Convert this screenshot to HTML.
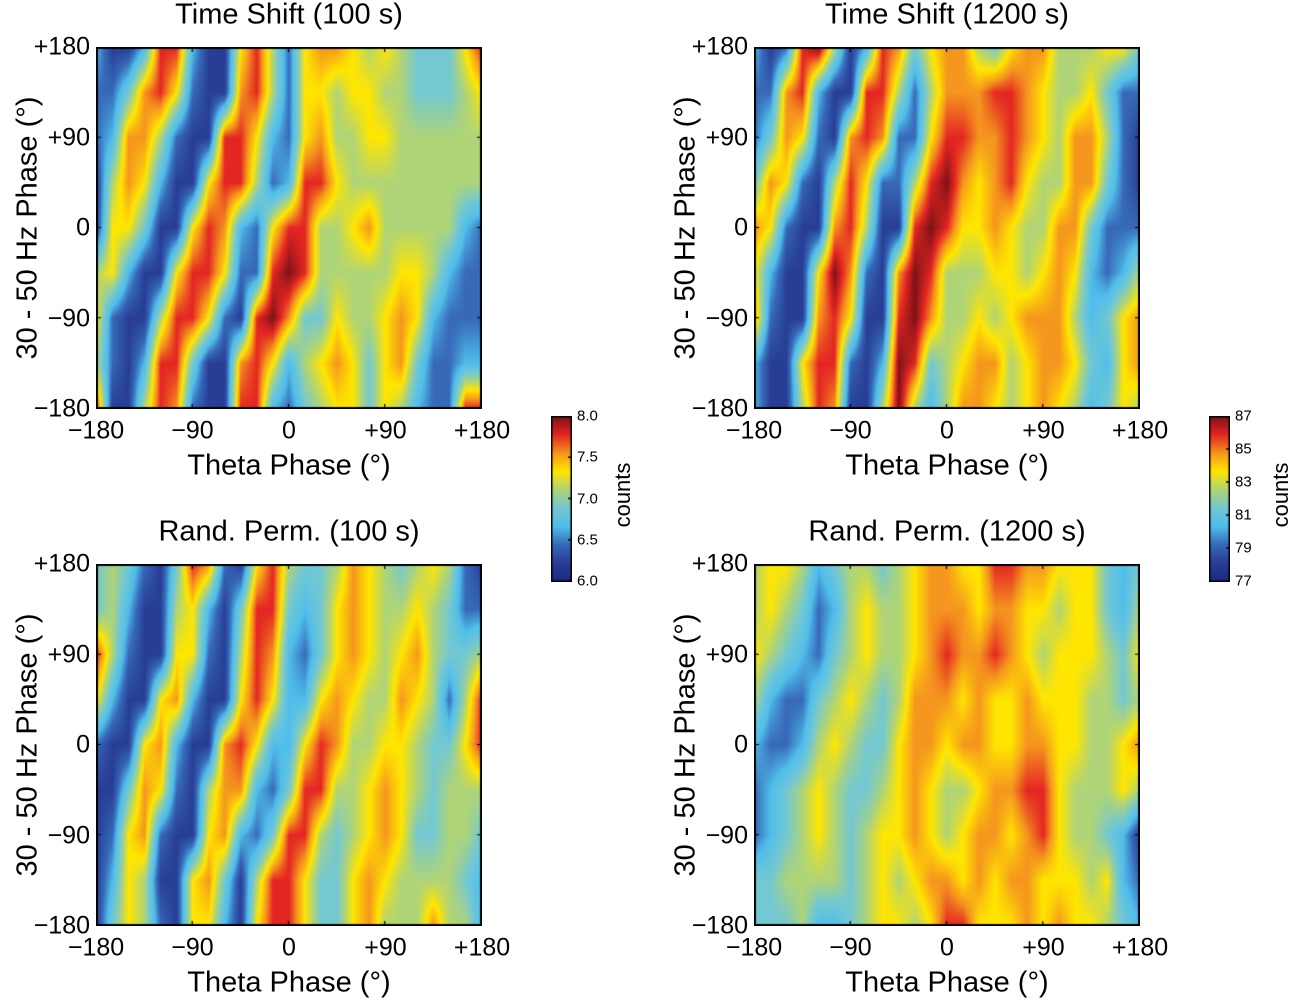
<!DOCTYPE html>
<html><head><meta charset="utf-8"><style>
body{margin:0;background:#fff;width:1297px;height:1001px;overflow:hidden;position:relative;font-family:"Liberation Sans",sans-serif;color:#000}
.t{position:absolute;white-space:nowrap}
canvas{position:absolute}
</style></head><body>
<div id="root"></div>
<script>
// Panel heatmap data: color-index levels (0 = colormap min, 9 = max), rows from +180 (top) to -180, 25 columns from -180 to +180 (15° steps)
const tsShort = [
[3,1,1,3,8,8,3,1,1,6,8,5,2,6,7,7,6,5,6,5,4,4,4,6,8],
[2,2,4,7,8,6,2,1,1,7,8,5,2,6,6,5,6,6,5,5,4,4,4,5,6],
[2,3,7,7,5,2,1,1,8,8,6,3,2,6,7,5,5,6,6,5,5,5,5,5,5],
[1,5,7,6,3,1,1,6,8,8,5,2,3,8,8,6,5,5,5,5,5,5,5,5,5],
[1,6,6,4,1,1,6,8,7,3,2,6,8,8,5,5,6,7,5,5,5,5,5,3,2],
[5,6,3,1,1,6,8,8,6,2,2,8,9,8,5,5,5,5,5,6,6,5,3,2,2],
[6,2,1,1,5,8,8,6,2,1,8,9,7,4,4,6,5,5,6,7,6,3,2,2,2],
[5,2,1,3,8,8,4,1,1,7,8,6,3,5,6,7,6,4,6,7,4,2,2,3,3],
[8,1,1,5,8,7,2,1,1,8,8,3,2,4,5,6,6,4,6,5,3,2,2,8,8]];
const tsLong = [
[3,1,2,8,9,5,1,3,8,7,4,6,7,7,5,4,6,7,7,5,5,5,6,6,4],
[2,2,7,8,3,1,1,8,8,5,2,5,7,7,7,8,8,7,6,5,5,6,4,2,2],
[2,4,7,6,2,1,7,8,7,2,2,6,8,8,7,7,8,7,6,5,7,7,5,2,1],
[4,7,6,2,1,5,8,6,2,2,5,8,9,7,6,7,8,6,5,5,7,7,4,2,1],
[7,6,2,1,1,7,8,5,1,1,8,9,8,6,6,7,6,5,5,7,7,4,2,2,2],
[6,3,1,1,6,9,7,2,1,7,9,8,5,5,5,6,6,5,6,7,6,3,2,3,5],
[7,2,1,1,7,8,6,1,1,8,9,7,5,5,6,5,6,7,7,7,5,3,4,6,7],
[3,1,1,6,8,8,2,1,3,9,8,4,5,6,7,7,5,6,7,7,6,4,3,6,7],
[3,1,1,5,8,7,1,1,5,9,5,3,5,7,7,6,5,6,7,6,5,3,4,6,5]];
const rpShort = [
[4,5,4,2,1,4,8,7,2,1,6,8,5,4,4,5,7,6,5,4,5,6,5,2,1],
[4,5,3,1,1,5,6,3,1,4,8,8,4,3,4,6,7,6,5,5,6,5,4,2,2],
[8,5,2,1,1,6,6,2,1,5,8,7,3,2,4,6,7,6,5,6,7,5,4,4,5],
[6,3,1,1,6,7,3,1,1,6,8,6,3,3,6,7,6,5,5,7,6,5,2,5,8],
[2,1,1,6,7,3,1,1,7,8,6,3,3,6,8,7,5,5,6,6,5,4,4,6,8],
[1,1,4,7,6,2,1,5,7,7,3,2,4,8,8,5,5,6,7,6,5,4,5,5,5],
[1,2,6,7,2,1,1,6,7,3,2,4,8,8,5,4,5,6,7,6,4,4,5,5,4],
[1,3,6,5,1,1,6,7,4,1,5,8,8,6,4,4,6,7,6,5,5,5,5,4,3],
[1,4,6,5,2,1,6,6,3,1,6,8,8,6,4,4,6,7,5,5,5,7,5,5,3]];
const rpLong = [
[5,6,6,5,3,4,5,5,4,5,6,7,7,6,6,8,8,7,7,6,6,6,4,3,4],
[5,6,5,4,2,3,5,6,5,5,6,7,7,7,6,7,7,6,6,5,6,6,4,3,5],
[6,5,4,3,2,4,5,6,5,5,6,7,8,7,7,8,7,6,5,6,6,6,5,4,6],
[5,3,2,2,4,5,6,5,4,5,7,7,7,6,7,6,6,7,6,6,6,5,5,4,5],
[3,2,2,3,5,6,5,4,4,6,7,7,6,7,7,6,6,7,7,6,6,5,5,6,7],
[2,3,4,5,6,5,4,4,5,6,7,6,5,5,6,7,7,8,8,6,5,5,5,6,5],
[2,3,4,5,6,5,4,5,6,6,7,6,5,6,7,7,6,7,8,6,5,5,4,3,1],
[4,4,5,5,5,5,4,5,6,5,6,7,7,6,7,6,7,7,6,6,6,5,6,3,2],
[4,4,4,5,3,3,4,5,6,6,5,6,8,8,6,6,6,7,6,7,6,6,5,4,3]];
const xTicks = ["\u2212180","\u221290","0","+90","+180"];
const yTicks = ["+180","+90","0","\u221290","\u2212180"];
const cbShortTicks = ["8.0","7.5","7.0","6.5","6.0"];
const cbLongTicks = ["87","85","83","81","79","77"];

const PAL=[[30,40,128],[40,62,150],[55,105,185],[80,190,235],[115,200,210],[175,212,120],[255,230,0],[245,150,30],[228,38,35],[125,18,22]];
function cmap(v){v=Math.max(0,Math.min(9,v));const i=Math.min(8,Math.floor(v)),f=v-i,a=PAL[i],b=PAL[i+1];
 return [a[0]+(b[0]-a[0])*f,a[1]+(b[1]-a[1])*f,a[2]+(b[2]-a[2])*f];}
const root=document.body;
function txt(s,x,y,size,align,name,rot){const d=document.createElement('div');d.className='t';d.textContent=s;
 d.style.fontSize=size+'px';d.style.left=x+'px';d.style.top=y+'px';
 let tr=align==='c'?'translate(-50%,-50%)':align==='r'?'translate(-100%,-50%)':'translate(0,-50%)';
 if(rot)tr='translate(-50%,-50%) rotate(-90deg)';d.style.transform=tr;
 
 
 root.appendChild(d);}
function panel(data,X,Y,title,key){
 const W=386,H=362;const rows=data.length,cols=data[0].length;
 const c=document.createElement('canvas');c.width=W;c.height=H;c.style.left=X+'px';c.style.top=Y+'px';
 
 
 root.appendChild(c);const g=c.getContext('2d');const im=g.createImageData(W,H);
 for(let py=0;py<H;py++){const ry=py/(H-1)*(rows-1);const r0=Math.min(rows-2,Math.floor(ry)),fy=ry-r0;
  for(let px=0;px<W;px++){const cx=px/(W-1)*(cols-1);const c0=Math.min(cols-2,Math.floor(cx)),fx=cx-c0;
   const v=(data[r0][c0]*(1-fx)+data[r0][c0+1]*fx)*(1-fy)+(data[r0+1][c0]*(1-fx)+data[r0+1][c0+1]*fx)*fy;
   const col=cmap(v);const k=(py*W+px)*4;im.data[k]=col[0];im.data[k+1]=col[1];im.data[k+2]=col[2];im.data[k+3]=255;}}
 g.putImageData(im,0,0);
 g.strokeStyle='#000';g.lineWidth=2;g.strokeRect(1,1,W-2,H-2);g.lineWidth=1.2;
 for(let i=0;i<5;i++){const x=i*(W-1)/4;g.beginPath();g.moveTo(x,H);g.lineTo(x,H-5);g.moveTo(x,0);g.lineTo(x,5);g.stroke();
  const y=i*(H-1)/4;g.beginPath();g.moveTo(0,y);g.lineTo(5,y);g.moveTo(W,y);g.lineTo(W-5,y);g.stroke();}
 txt(title,X+W/2,Y-32,29,'c',key+'-title');
 xTicks.forEach((s,i)=>txt(s,X+i*W/4,Y+H+22,25,'c','x-tick-label'));
 yTicks.forEach((s,i)=>txt(s,X-6,Y+i*H/4,25,'r','y-tick-label'));
 txt('Theta Phase (\u00b0)',X+W/2,Y+H+57,29,'c',key+'-x-axis-title');
 txt('30 - 50 Hz Phase (\u00b0)',X-68,Y+H/2,29,'c',key+'-y-axis-title',true);
}
function colorbar(X,ticks,key){const Y=416,H=166,W=21;
 const c=document.createElement('canvas');c.width=W;c.height=H;c.style.left=X+'px';c.style.top=Y+'px';
 
 
 root.appendChild(c);const g=c.getContext('2d');
 for(let y=0;y<H;y++){const col=cmap(9*(1-y/(H-1)));g.fillStyle=`rgb(${col[0]|0},${col[1]|0},${col[2]|0})`;g.fillRect(0,y,W,1);}
 g.strokeStyle='#000';g.lineWidth=1.5;g.strokeRect(0.75,0.75,W-1.5,H-1.5);
 ticks.forEach((s,i)=>{const y=i*(H-1)/(ticks.length-1);g.beginPath();g.moveTo(W-4,y);g.lineTo(W,y);g.stroke();
  txt(s,X+W+5,Y+y,15,'l',key+'-colorbar-tick');});
 txt('counts',X+72,Y+H/2-4,22,'c',key+'-colorbar-label',true);
}
panel(tsShort,96,47,'Time Shift (100 s)','time-shift-100s');
panel(tsLong,754,47,'Time Shift (1200 s)','time-shift-1200s');
panel(rpShort,96,564,'Rand. Perm. (100 s)','rand-perm-100s');
panel(rpLong,754,564,'Rand. Perm. (1200 s)','rand-perm-1200s');
colorbar(551,cbShortTicks,'100s');
colorbar(1209,cbLongTicks,'1200s');
</script>
</body></html>
